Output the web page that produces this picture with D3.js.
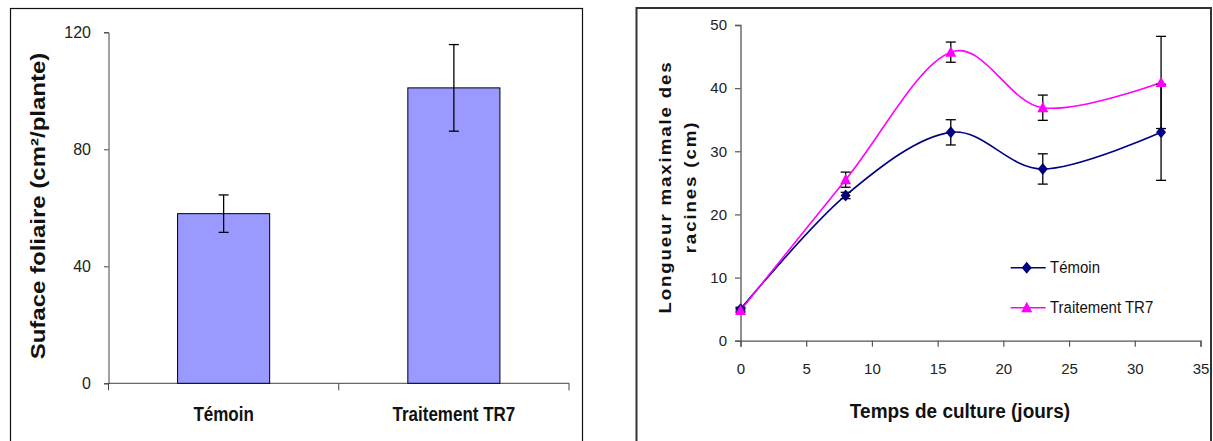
<!DOCTYPE html>
<html><head><meta charset="utf-8">
<script src="https://cdn.jsdelivr.net/npm/d3@7"></script>
<style>body{margin:0;background:#fff}svg{display:block}</style>
</head><body>
<svg id="c" width="1213" height="441"></svg>
<script>
// ---- Left chart data ----
const barCategories = ["Témoin", "Traitement TR7"];
const barValues = [58, 101];
const barErrors = [6.4, 14.8];
const barTicks = [0, 40, 80, 120];

// ---- Right chart data ----
const days = [0, 8, 16, 23, 32];
const temoinValues = [5, 23, 33, 27.2, 33];
const temoinErrors = [0.3, 0.5, 2, 2.4, 7.6];
const tr7Values = [4.8, 25.5, 45.7, 36.9, 40.9];
const tr7Errors = [0.3, 1.2, 1.6, 2, 7.3];
const xTicks = [0, 5, 10, 15, 20, 25, 30, 35];
const yTicks = [0, 10, 20, 30, 40, 50];
const seriesNames = ["Témoin", "Traitement TR7"];

const svg = d3.select("#c");
const FONT = "'Liberation Sans', Arial, sans-serif";

// ================= LEFT PANEL =================
svg.append("rect").attr("x", 10.5).attr("y", 8.5).attr("width", 572).attr("height", 440)
  .attr("fill", "none").attr("stroke", "#111").attr("stroke-width", 1.2);

const L = {x0: 108.5, x1: 569, y0: 383.3, y1: 32.3};
const xb = d3.scaleBand().domain(barCategories).range([L.x0, L.x1]).paddingInner(0.6).paddingOuter(0.3);
const yb = d3.scaleLinear().domain([0, 120]).range([L.y0, L.y1]);

const gL = svg.append("g");
// y axis
const yAxL = gL.append("g").attr("transform", `translate(${L.x0},0)`)
  .call(d3.axisLeft(yb).tickValues(barTicks).tickSize(4.5).tickPadding(13));
yAxL.select(".domain").attr("stroke", "#444");
yAxL.selectAll(".tick line").attr("stroke", "#444");
yAxL.selectAll("text").attr("font-family", FONT).attr("font-size", 16).attr("fill", "#222");
// x axis line
gL.append("line").attr("x1", L.x0).attr("x2", L.x1).attr("y1", L.y0).attr("y2", L.y0).attr("stroke", "#444");
const step = xb.step();
const boundaries = barCategories.map(c => xb(c) - step * xb.paddingInner() / 2).concat([L.x1]);
gL.selectAll(".xt").data(boundaries).join("line")
  .attr("x1", d => d).attr("x2", d => d).attr("y1", L.y0).attr("y2", L.y0 + 7).attr("stroke", "#444");
// bars
gL.selectAll(".bar").data(barCategories).join("rect")
  .attr("x", d => xb(d)).attr("width", xb.bandwidth())
  .attr("y", (d, i) => yb(barValues[i])).attr("height", (d, i) => yb(0) - yb(barValues[i]))
  .attr("fill", "#9999FF").attr("stroke", "#000").attr("stroke-width", 1);
// error bars
barCategories.forEach((c, i) => {
  const cx = xb(c) + xb.bandwidth() / 2;
  const top = yb(barValues[i] + barErrors[i]), bot = yb(barValues[i] - barErrors[i]);
  gL.append("line").attr("x1", cx).attr("x2", cx).attr("y1", top).attr("y2", bot).attr("stroke", "#000").attr("stroke-width", 1.3);
  [top, bot].forEach(y => gL.append("line").attr("x1", cx - 5).attr("x2", cx + 5).attr("y1", y).attr("y2", y).attr("stroke", "#000").attr("stroke-width", 1.3));
});
// category labels
barCategories.forEach(c => {
  const cx = xb(c) + xb.bandwidth() / 2;
  gL.append("text").attr("transform", `translate(${cx},420.5) scale(1,1.2)`)
    .attr("text-anchor", "middle").attr("font-family", FONT).attr("font-weight", "bold")
    .attr("font-size", 17).attr("fill", "#111").text(c);
});
// y title
gL.append("text").attr("transform", `translate(38,206) rotate(-90) scale(1.2,1)`)
  .attr("text-anchor", "middle").attr("dy", "0.35em").attr("font-family", FONT).attr("font-weight", "bold")
  .attr("font-size", 20).attr("fill", "#111").text("Suface foliaire (cm²/plante)");

// ================= RIGHT PANEL =================
svg.append("rect").attr("x", 636.5).attr("y", 8).attr("width", 574.5).attr("height", 440)
  .attr("fill", "none").attr("stroke", "#333").attr("stroke-width", 2);

const R = {x0: 740.5, x1: 1200.5, y0: 340.7, y1: 25};
const xs = d3.scaleLinear().domain([0, 35]).range([R.x0, R.x1]);
const ys = d3.scaleLinear().domain([0, 50]).range([R.y0, R.y1]);
const gR = svg.append("g");

const xAx = gR.append("g").attr("transform", `translate(0,${R.y0})`)
  .call(d3.axisBottom(xs).tickValues(xTicks).tickSize(6).tickPadding(17));
const yAx = gR.append("g").attr("transform", `translate(${R.x0},0)`)
  .call(d3.axisLeft(ys).tickValues(yTicks).tickSize(5.5).tickPadding(8));
[xAx, yAx].forEach(a => {
  a.select(".domain").attr("stroke", "#555").attr("stroke-width", 1.3);
  a.selectAll(".tick line").attr("stroke", "#555").attr("stroke-width", 1.2);
  a.selectAll("text").attr("font-family", FONT).attr("font-size", 15).attr("fill", "#222");
});
xAx.selectAll("text").attr("dy", "0.35em").attr("y", 28);

const line = d3.line().x(d => xs(d[0])).y(d => ys(d[1])).curve(d3.curveCatmullRom.alpha(0));
const series = [
  {name: seriesNames[0], vals: temoinValues, errs: temoinErrors, color: "#000080", shape: "diamond"},
  {name: seriesNames[1], vals: tr7Values, errs: tr7Errors, color: "#FF00FF", shape: "triangle"}
];
function marker(g, shape, x, y, color) {
  if (shape === "diamond") {
    g.append("path").attr("d", `M${x},${y - 6}L${x + 5},${y}L${x},${y + 6}L${x - 5},${y}Z`).attr("fill", color);
  } else {
    g.append("path").attr("d", `M${x},${y - 6}L${x + 5.5},${y + 4.5}L${x - 5.5},${y + 4.5}Z`).attr("fill", color);
  }
}
series.forEach(s => {
  gR.append("path").datum(days.map((d, i) => [d, s.vals[i]])).attr("d", line)
    .attr("fill", "none").attr("stroke", s.color).attr("stroke-width", 1.6);
});
// error bars
series.forEach(s => {
  days.forEach((d, i) => {
    const cx = xs(d), top = ys(s.vals[i] + s.errs[i]), bot = ys(s.vals[i] - s.errs[i]);
    gR.append("line").attr("x1", cx).attr("x2", cx).attr("y1", top).attr("y2", bot).attr("stroke", "#000").attr("stroke-width", 1.3);
    [top, bot].forEach(y => gR.append("line").attr("x1", cx - 5).attr("x2", cx + 5).attr("y1", y).attr("y2", y).attr("stroke", "#000").attr("stroke-width", 1.3));
  });
});
series.forEach(s => {
  days.forEach((d, i) => marker(gR, s.shape, xs(d), ys(s.vals[i]), s.color));
});
// legend
series.forEach((s, i) => {
  const ly = 267.7 + i * 40;
  gR.append("line").attr("x1", 1010.7).attr("x2", 1045.7).attr("y1", ly).attr("y2", ly).attr("stroke", s.color).attr("stroke-width", 1.6);
  marker(gR, s.shape, 1026.7, ly, s.color);
  gR.append("text").attr("transform", `translate(1050,${ly}) scale(1,1.1)`).attr("dy", "0.35em")
    .attr("font-family", FONT).attr("font-size", 15).attr("fill", "#111").text(s.name);
});
// x title
gR.append("text").attr("transform", `translate(960,418.3) scale(1,1.1)`).attr("text-anchor", "middle")
  .attr("font-family", FONT).attr("font-weight", "bold").attr("font-size", 19).attr("fill", "#111")
  .text("Temps de culture (jours)");
// y title (two lines)
[["Longueur maximale des", 665], ["racines (cm)", 690]].forEach(([t, x]) => {
  gR.append("text").attr("transform", `translate(${x},187) rotate(-90) scale(1.1,1)`)
    .attr("text-anchor", "middle").attr("dy", "0.35em").attr("font-family", FONT).attr("font-weight", "bold")
    .attr("font-size", 17).attr("letter-spacing", 1.7).attr("fill", "#111").text(t);
});
</script>
</body></html>
